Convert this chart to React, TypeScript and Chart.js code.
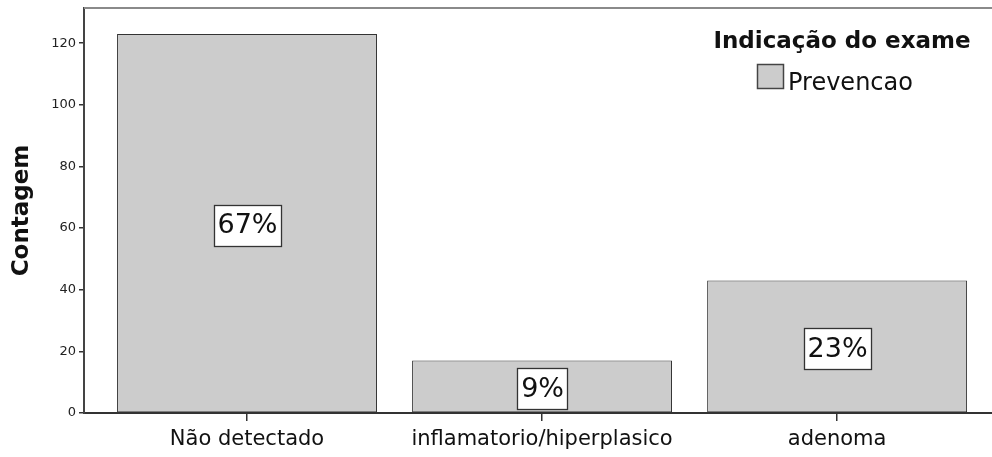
import React, { useEffect, useRef } from "react";
import { Chart, registerables } from "chart.js";

Chart.register(...registerables);

const categories = ["Não detectado", "inflamatorio/hiperplasico", "adenoma"];
const counts = [123, 17, 43];
const yTicks = [0, 20, 40, 60, 80, 100, 120];
const seriesName = "Prevencao";
const legendTitle = "Indicação do exame";
const yTitle = "Contagem";

const FONT = '"DejaVu Sans", sans-serif';
const total = counts.reduce((a, b) => a + b, 0);

const overlay = {
  id: "overlay",
  afterDatasetsDraw(chart: any) {
    const { ctx, chartArea, scales } = chart;
    ctx.save();
    // top frame line
    ctx.strokeStyle = "#8a8a8a";
    ctx.lineWidth = 2;
    ctx.beginPath();
    ctx.moveTo(chartArea.left, chartArea.top);
    ctx.lineTo(chartArea.right, chartArea.top);
    ctx.stroke();

    // percentage labels
    const meta = chart.getDatasetMeta(0);
    meta.data.forEach((bar: any, i: number) => {
      const v = counts[i];
      const text = Math.round((v / total) * 100) + "%";
      const x = bar.x;
      const y = scales.y.getPixelForValue(v / 2) + 2;
      ctx.font = "27px " + FONT;
      const w = Math.round(ctx.measureText(text).width + 7);
      const h = 41;
      const bx = Math.round(x - w / 2);
      const by = Math.round(y - h / 2);
      ctx.fillStyle = "#ffffff";
      ctx.fillRect(bx, by, w, h);
      ctx.strokeStyle = "#333333";
      ctx.lineWidth = 1.3;
      ctx.strokeRect(bx + 0.5, by + 0.5, w, h);
      ctx.fillStyle = "#111111";
      ctx.textAlign = "center";
      ctx.textBaseline = "middle";
      ctx.fillText(text, x + 0.5, y + 1);
    });

    // legend
    ctx.font = "bold 23px " + FONT;
    ctx.fillStyle = "#111111";
    ctx.textAlign = "center";
    ctx.textBaseline = "alphabetic";
    ctx.fillText(legendTitle, 842, 48);
    ctx.fillStyle = "#cccccc";
    ctx.fillRect(757, 64, 27, 25);
    ctx.strokeStyle = "#444444";
    ctx.lineWidth = 1.5;
    ctx.strokeRect(757.5, 64.5, 26, 24);
    ctx.font = "24px " + FONT;
    ctx.fillStyle = "#111111";
    ctx.textAlign = "left";
    ctx.fillText(seriesName, 788, 90);
    ctx.restore();
  },
};

export default function App() {
  const ref = useRef<HTMLCanvasElement | null>(null);
  useEffect(() => {
    if (!ref.current) return;
    const chart = new Chart(ref.current, {
      type: "bar",
      data: {
        datasets: [
          {
            label: seriesName,
            data: counts.map((v, i) => ({ x: i, y: v })),
            backgroundColor: "#cccccc",
            borderColor: "#333333",
            borderWidth: 1,
            borderSkipped: false,
            categoryPercentage: 0.881,
            barPercentage: 1,
          } as any,
        ],
      },
      options: {
        animation: false,
        responsive: false,
        devicePixelRatio: 1,
        layout: { padding: { top: 8, left: 0, right: 0, bottom: 0 } },
        plugins: { legend: { display: false }, tooltip: { enabled: false } },
        scales: {
          x: {
            type: "linear",
            offset: false,
            min: -0.5525,
            max: 2.525,
            afterBuildTicks: (scale: any) => {
              scale.ticks = categories.map((_, i) => ({ value: i }));
            },
            afterFit: (scale: any) => {
              scale.height = 44;
              scale.paddingLeft = 0;
              scale.paddingRight = 0;
            },
            grid: {
              display: true,
              offset: false,
              drawOnChartArea: false,
              drawTicks: true,
              tickLength: 8,
              color: "#333333",
              lineWidth: 1.5,
            },
            border: { display: true, color: "#333333", width: 2 },
            ticks: {
              autoSkip: false,
              maxRotation: 0,
              padding: 6,
              color: "#111111",
              font: { family: FONT, size: 21 },
              callback: (v: any) => categories[v] ?? "",
            },
          },
          y: {
            type: "linear",
            min: 0,
            max: 131.4,
            afterBuildTicks: (scale: any) => {
              scale.ticks = yTicks.map((v) => ({ value: v }));
            },
            afterFit: (scale: any) => {
              scale.width = 84;
              scale.paddingTop = 0;
              scale.paddingBottom = 0;
            },
            grid: {
              display: true,
              drawOnChartArea: false,
              drawTicks: true,
              tickLength: 5,
              color: "#333333",
              lineWidth: 1.5,
            },
            border: { display: true, color: "#444444", width: 2 },
            ticks: {
              padding: 3,
              color: "#222222",
              font: { family: FONT, size: 13 },
            },
            title: {
              display: true,
              text: yTitle,
              color: "#111111",
              font: { family: FONT, size: 23, weight: "bold" },
              padding: { top: 8, bottom: 0 },
            },
          },
        },
      },
      plugins: [overlay],
    });
    return () => chart.destroy();
  }, []);
  return (
    <div style={{ position: "fixed", left: 0, top: 0, width: 992, height: 457, background: "#fff" }}>
      <canvas ref={ref} width={992} height={457} />
    </div>
  );
}
